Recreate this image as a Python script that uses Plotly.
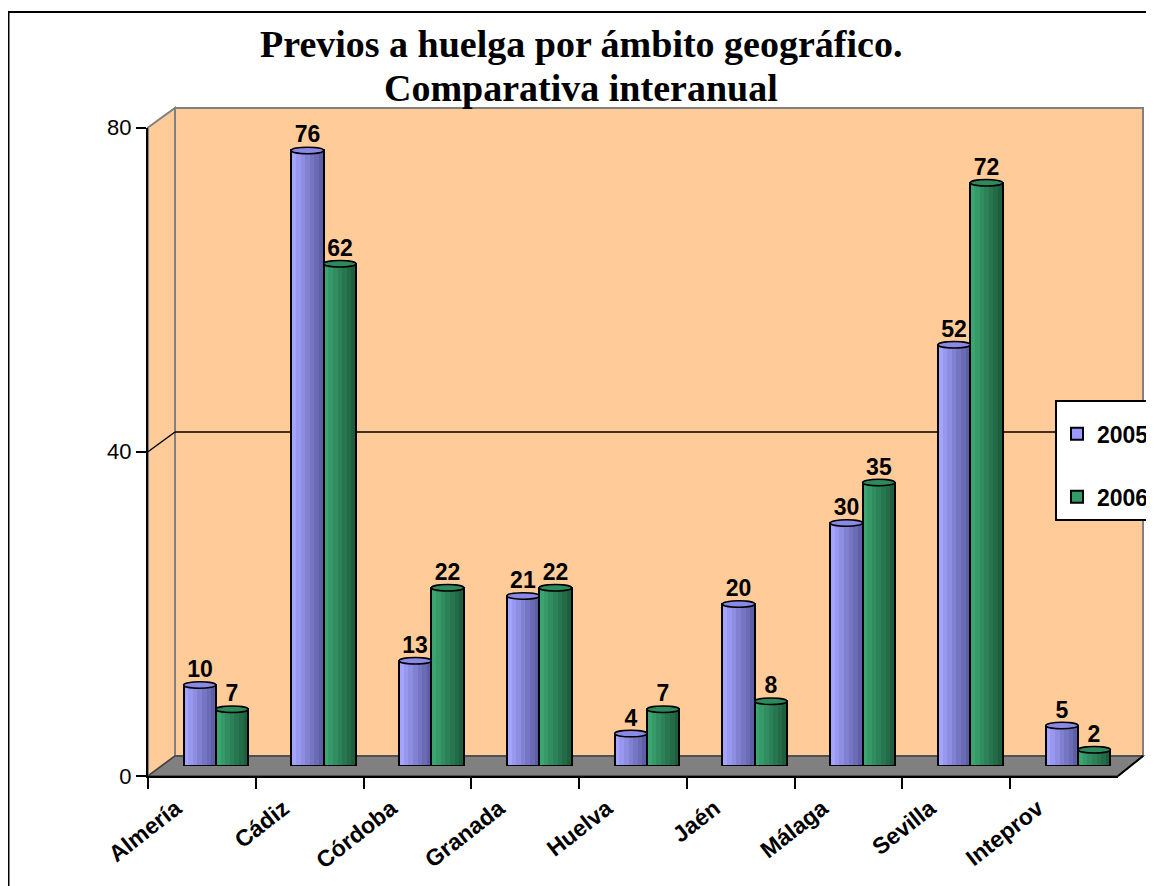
import plotly.graph_objects as go

# ---------------- data ----------------
categories = ["Almería", "Cádiz", "Córdoba", "Granada", "Huelva", "Jaén", "Málaga", "Sevilla", "Inteprov"]
values_2005 = [10, 76, 13, 21, 4, 20, 30, 52, 5]
values_2006 = [7, 62, 22, 22, 7, 8, 35, 72, 2]
series_names = ["2005", "2006"]
y_ticks = [0, 40, 80]
title_line1 = "Previos a huelga por ámbito geográfico."
title_line2 = "Comparativa interanual"

W, H = 1154, 886
OFF = 8  # default page margin of the html body
FW, FH = W - OFF, H - OFF


def px(x):
    return (x - OFF) / FW


def py(y):
    return 1 - (y - OFF) / FH


# geometry (page pixels)
FRONT_L, FRONT_R = 148, 1118
FRONT_Y0, FRONT_Y80 = 776, 127.5
BACK_L, BACK_R = 175, 1143
BACK_Y0, BACK_Y80 = 756, 108
MID_Y0, MID_Y80 = 766, 118

ORANGE = "#FFCC99"
GRAY = "#808080"

fig = go.Figure()

BAR_W = 0.3
NSTRIP = 7


def lerp(c1, c2, t):
    a = [int(c1[i:i + 2], 16) for i in (1, 3, 5)]
    b = [int(c2[i:i + 2], 16) for i in (1, 3, 5)]
    return "#%02x%02x%02x" % tuple(round(a[k] + (b[k] - a[k]) * t) for k in range(3))


series = [
    (series_names[0], values_2005, "#9999FF", "#A4A4FF", "#5E5EA6", -BAR_W, "#8A8AE6"),
    (series_names[1], values_2006, "#339966", "#3AA571", "#1E5E3E", 0.0, "#2E8A5C"),
]

# base bars (legend)
for name, vals, col, c1, c2, off, capc in series:
    fig.add_trace(go.Bar(
        x=categories, y=vals, name=name, width=BAR_W, offset=off,
        marker=dict(color=col, line=dict(color="black", width=2)),
        legendgroup=name, showlegend=True, hoverinfo="skip",
    ))

# cylinder shading strips
for name, vals, col, c1, c2, off, capc in series:
    sw = BAR_W / NSTRIP
    for k in range(NSTRIP):
        t = k / (NSTRIP - 1)
        fig.add_trace(go.Bar(
            x=categories, y=vals, width=sw, offset=off + k * sw,
            marker=dict(color=lerp(c1, c2, t), line=dict(width=0)),
            showlegend=False, hoverinfo="skip", legendgroup=name,
        ))

# outlines + labels
for name, vals, col, c1, c2, off, capc in series:
    fig.add_trace(go.Bar(
        x=categories, y=vals, width=BAR_W, offset=off,
        marker=dict(color="rgba(0,0,0,0)", line=dict(color="black", width=2)),
        text=[str(v) for v in vals], textposition="outside",
        textfont=dict(family="Liberation Sans", size=23, color="black", weight="bold"),
        cliponaxis=False, showlegend=False, hoverinfo="skip", legendgroup=name,
    ))

# invisible trace to define the front category axis
fig.add_trace(go.Scatter(
    x=categories, y=[0] * len(categories), xaxis="x2", yaxis="y2",
    mode="markers", marker=dict(opacity=0), showlegend=False, hoverinfo="skip",
))

shapes = []
# outer frame
shapes.append(dict(type="rect", xref="paper", yref="paper", x0=px(OFF + 0.5), x1=px(1165),
                   y0=py(12), y1=py(900), line=dict(color="black", width=2),
                   fillcolor="rgba(0,0,0,0)", layer="below"))
# back wall
shapes.append(dict(type="rect", xref="paper", yref="paper", x0=px(BACK_L), x1=px(BACK_R),
                   y0=py(BACK_Y0), y1=py(BACK_Y80), fillcolor=ORANGE,
                   line=dict(color=GRAY, width=2), layer="below"))
# side wall
shapes.append(dict(type="path", xref="paper", yref="paper",
                   path="M %f %f L %f %f L %f %f L %f %f Z" % (
                       px(FRONT_L), py(FRONT_Y80), px(BACK_L), py(BACK_Y80),
                       px(BACK_L), py(BACK_Y0), px(FRONT_L), py(FRONT_Y0)),
                   fillcolor=ORANGE, line=dict(color=GRAY, width=2), layer="below"))
# floor
shapes.append(dict(type="path", xref="paper", yref="paper",
                   path="M %f %f L %f %f L %f %f L %f %f Z" % (
                       px(FRONT_L), py(FRONT_Y0), px(FRONT_R), py(FRONT_Y0),
                       px(BACK_R), py(BACK_Y0), px(BACK_L), py(BACK_Y0)),
                   fillcolor=GRAY, line=dict(color="#404040", width=1.5), layer="below"))
# gridline at 40 (back wall + side wall)
g_back = BACK_Y0 + (BACK_Y80 - BACK_Y0) * 0.5
g_front = FRONT_Y0 + (FRONT_Y80 - FRONT_Y0) * 0.5
shapes.append(dict(type="line", xref="paper", yref="paper", x0=px(BACK_L), x1=px(BACK_R),
                   y0=py(g_back), y1=py(g_back), line=dict(color="black", width=1.5), layer="below"))
shapes.append(dict(type="line", xref="paper", yref="paper", x0=px(FRONT_L), x1=px(BACK_L),
                   y0=py(g_front), y1=py(g_back), line=dict(color="black", width=1.5), layer="below"))
# floor right front edge
shapes.append(dict(type="line", xref="paper", yref="paper", x0=px(FRONT_R), x1=px(BACK_R),
                   y0=py(FRONT_Y0), y1=py(BACK_Y0), line=dict(color="black", width=2), layer="below"))

# cylinder top caps, placed in data coordinates of the bar axes
CAP = 0.4
for name, vals, col, c1, c2, off, capc in series:
    for i, v in enumerate(vals):
        shapes.append(dict(type="circle", xref="x", yref="y",
                           x0=i + off, x1=i + off + BAR_W, y0=v - CAP, y1=v + CAP,
                           fillcolor=capc, line=dict(color="black", width=1.5), layer="above"))

annotations = [
    dict(text="<b>%s</b>" % title_line1, xref="paper", yref="paper", x=px(581), y=py(44),
         xanchor="center", yanchor="middle", showarrow=False,
         font=dict(family="Liberation Serif", size=38, color="black")),
    dict(text="<b>%s</b>" % title_line2, xref="paper", yref="paper", x=px(581), y=py(88),
         xanchor="center", yanchor="middle", showarrow=False,
         font=dict(family="Liberation Serif", size=38, color="black")),
]

fig.update_layout(
    width=FW, height=FH,
    margin=dict(l=0, r=0, t=0, b=0, pad=0, autoexpand=False),
    paper_bgcolor="white", plot_bgcolor="rgba(0,0,0,0)",
    barmode="overlay", bargap=0,
    shapes=shapes, annotations=annotations,
    xaxis=dict(domain=[px(FRONT_L + 14), px(FRONT_R + 14)], range=[-0.5, 8.5],
               visible=False, type="category", categoryarray=categories, categoryorder="array"),
    yaxis=dict(domain=[py(MID_Y0), py(MID_Y80)], range=[0, 80], visible=False),
    xaxis2=dict(domain=[px(FRONT_L), px(FRONT_R)], range=[-0.5, 8.5], anchor="y2",
                type="category", categoryarray=categories, categoryorder="array",
                showline=True, linecolor="black", linewidth=2, automargin=False,
                ticks="outside", ticklen=11, tickwidth=2, tickcolor="black",
                tickson="boundaries", tickangle=-38, showgrid=False,
                ticklabelshift=-26, ticklabelstandoff=8,
                tickfont=dict(family="Liberation Sans", size=23, color="black", weight="bold"),
                zeroline=False),
    yaxis2=dict(domain=[py(FRONT_Y0), py(FRONT_Y80)], range=[0, 80], anchor="x2",
                tickvals=y_ticks, ticks="outside", ticklen=10, tickwidth=2, tickcolor="black",
                showline=True, linecolor="black", linewidth=2, showgrid=False, zeroline=False,
                automargin=False, ticklabelstandoff=0,
                tickfont=dict(family="Liberation Sans", size=22, color="black")),
    legend=dict(x=px(1055), y=py(400), xanchor="left", yanchor="top",
                bgcolor="white", bordercolor="black", borderwidth=2,
                title=dict(text=" ", font=dict(size=8)),
                font=dict(family="Liberation Sans", size=23, color="black", weight="bold"),
                tracegroupgap=30, itemwidth=30),
    showlegend=True,
)

fig.write_html("out.html")
